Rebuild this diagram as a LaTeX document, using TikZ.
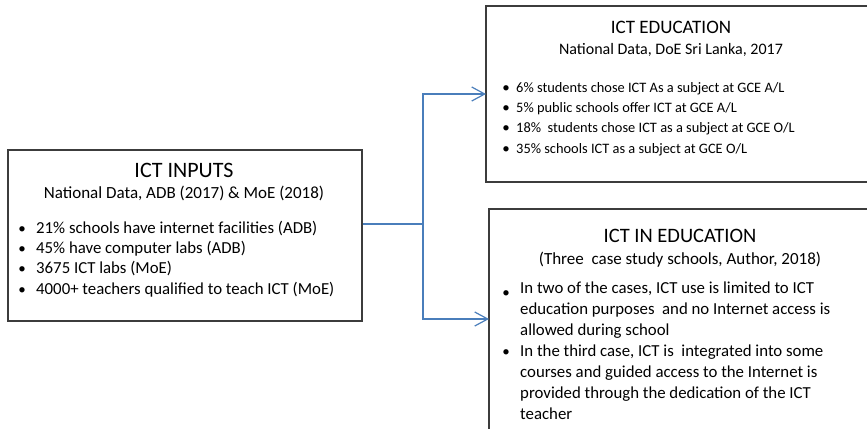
\documentclass[tikz,border=0pt]{standalone}
\usepackage{fontspec}
\setmainfont{Carlito}
\usetikzlibrary{arrows.meta}
\definecolor{boxline}{HTML}{3C3C3C}
\definecolor{link}{HTML}{4A7EBB}
\begin{document}
\begin{tikzpicture}[x=1pt,y=-1pt,
  panel/.style={draw=boxline,line width=1.8pt,rectangle,inner sep=0pt,anchor=north west},
  frame/.style={draw=boxline,line width=1.8pt,line join=miter},
  head/.style={anchor=base,font=\fontsize{20.5}{24}\selectfont},
  sub/.style={anchor=base,font=\fontsize{17}{20}\selectfont},
  item/.style={anchor=base west,inner sep=0pt,font=\fontsize{16.8}{20}\selectfont},
  smallitem/.style={anchor=base west,inner sep=0pt,font=\fontsize{14.4}{18}\selectfont},
  dot/.style={anchor=base,inner sep=0pt,font=\fontsize{15}{18}\selectfont},
  link/.style={draw=link,line width=1.5pt},
  linkarrow/.style={link,-{Straight Barb[length=13pt,width=14pt,line width=1.2pt]}}]
\useasboundingbox (0,0) rectangle (867,429);

% left panel
\node[panel,minimum width=354pt,minimum height=171pt] (inputs) at (7,149) {};

% the two right panels continue past the right and lower edges
\coordinate (edu nw) at (486,6);
\coordinate (edu sw) at (486,182);
\coordinate (edu west) at (486,94);
\coordinate (ined nw) at (489,209);
\coordinate (ined sw) at (489,429);
\coordinate (ined west) at (489,319);
\draw[frame] (edu nw -| 867,0) -- (edu nw) -- (edu sw) -- (edu sw -| 867,0);
\draw[frame] (ined nw -| 867,0) -- (ined nw) -- (ined sw);

% ICT inputs
\node[head,font=\fontsize{22}{26}\selectfont] (t1) at (184,177) {ICT INPUTS};
\node[sub] (s1) at (184,198) {National Data, ADB (2017) \& MoE (2018)};
\node[dot] (b11) at (22,233) {•};
\node[item] (i11) at (36,233) {21\% schools have internet facilities (ADB)};
\node[dot] (b12) at (22,253) {•};
\node[item] (i12) at (36,253) {45\% have computer labs (ADB)};
\node[dot] (b13) at (22,273) {•};
\node[item] (i13) at (36,273) {3675 ICT labs (MoE)};
\node[dot] (b14) at (22,294) {•};
\node[item] (i14) at (36,294) {4000+ teachers qualified to teach ICT (MoE)};

% ICT education
\node[head,font=\fontsize{19}{23}\selectfont] (t2) at (671,33) {ICT EDUCATION};
\node[sub,font=\fontsize{16}{19}\selectfont] (s2) at (671,54) {National Data, DoE Sri Lanka, 2017};
\node[dot] (b21) at (506,92) {•};
\node[smallitem] (i21) at (516,92) {6\% students chose ICT As a subject at GCE A/L};
\node[dot] (b22) at (506,112) {•};
\node[smallitem] (i22) at (516,112) {5\% public schools offer ICT at GCE A/L};
\node[dot] (b23) at (506,132) {•};
\node[smallitem] (i23) at (516,132) {18\%\ \ students chose ICT as a subject at GCE O/L};
\node[dot] (b24) at (506,153) {•};
\node[smallitem] (i24) at (516,153) {35\% schools ICT as a subject at GCE O/L};

% ICT in education
\node[head] (t3) at (680,242) {ICT IN EDUCATION};
\node[sub] (s3) at (680,264) {(Three\ \ case study schools, Author, 2018)};
\node[dot] (b31) at (506,297) {•};
\node[item] (i31a) at (520,293) {In two of the cases, ICT use is limited to ICT};
\node[item] (i31b) at (520,314) {education purposes\ \ and no Internet access is};
\node[item] (i31c) at (520,335) {allowed during school};
\node[dot] (b32) at (506,356) {•};
\node[item] (i32a) at (520,356) {In the third case, ICT is\ \ integrated into some};
\node[item] (i32b) at (520,377) {courses and guided access to the Internet is};
\node[item] (i32c) at (520,398) {provided through the dedication of the ICT};
\node[item] (i32d) at (520,419) {teacher};

% connectors
\coordinate (split) at (423,224);
\draw[link] (split -| inputs.east) -- (split);
\draw[linkarrow] (split) |- (edu west);
\draw[linkarrow] (split) |- (ined west);
\end{tikzpicture}
\end{document}
